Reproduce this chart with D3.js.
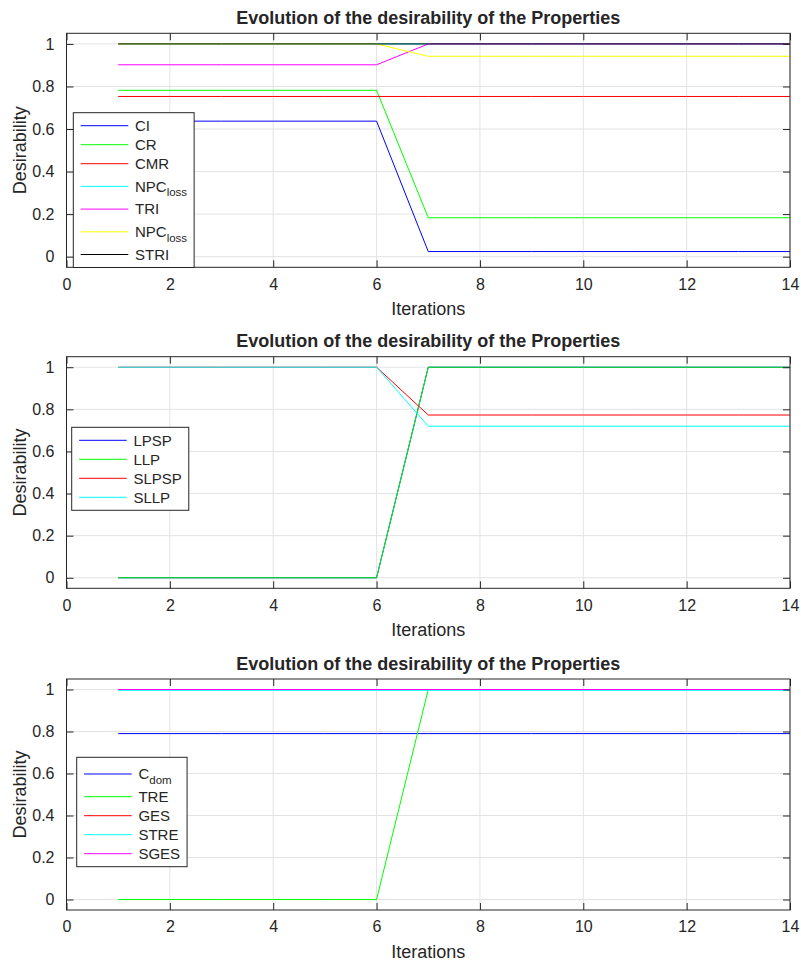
<!DOCTYPE html>
<html>
<head>
<meta charset="utf-8">
<script src="https://cdn.jsdelivr.net/npm/d3@7/dist/d3.min.js"></script>
<style>
  html, body { margin: 0; padding: 0; background: #fff; }
  svg { display: block; }
  text { font-family: "Liberation Sans", Arial, Helvetica, sans-serif; fill: #262626; }
</style>
</head>
<body>
<svg id="chart" width="801" height="963"></svg>
<script>
// ---------------- DATA ----------------
const iterations = [1, 2, 3, 4, 5, 6, 7, 8, 9, 10, 11, 12, 13, 14];
const xTicks = [0, 2, 4, 6, 8, 10, 12, 14];
const yTicks = [0, 0.2, 0.4, 0.6, 0.8, 1];
const yTickLabels = ["0", "0.2", "0.4", "0.6", "0.8", "1"];
const chartTitle = "Evolution of the desirability of the Properties";
const xLabel = "Iterations";
const yLabel = "Desirability";

// Panel 1
const ciValues    = [0.637, 0.637, 0.637, 0.637, 0.637, 0.637, 0.024, 0.024, 0.024, 0.024, 0.024, 0.024, 0.024, 0.024];
const crValues    = [0.782, 0.782, 0.782, 0.782, 0.782, 0.782, 0.183, 0.183, 0.183, 0.183, 0.183, 0.183, 0.183, 0.183];
const cmrValues   = [0.753, 0.753, 0.753, 0.753, 0.753, 0.753, 0.753, 0.753, 0.753, 0.753, 0.753, 0.753, 0.753, 0.753];
const npcLossValues  = [1, 1, 1, 1, 1, 1, 1, 1, 1, 1, 1, 1, 1, 1];
const triValues   = [0.902, 0.902, 0.902, 0.902, 0.902, 0.902, 1, 1, 1, 1, 1, 1, 1, 1];
const npcLoss2Values = [1, 1, 1, 1, 1, 1, 0.942, 0.942, 0.942, 0.942, 0.942, 0.942, 0.942, 0.942];
const striValues  = [1, 1, 1, 1, 1, 1, 1, 1, 1, 1, 1, 1, 1, 1];

// Panel 2
const lpspValues  = [0, 0, 0, 0, 0, 0, 1, 1, 1, 1, 1, 1, 1, 1];
const llpValues   = [0, 0, 0, 0, 0, 0, 1, 1, 1, 1, 1, 1, 1, 1];
const slpspValues = [1, 1, 1, 1, 1, 1, 0.773, 0.773, 0.773, 0.773, 0.773, 0.773, 0.773, 0.773];
const sllpValues  = [1, 1, 1, 1, 1, 1, 0.72, 0.72, 0.72, 0.72, 0.72, 0.72, 0.72, 0.72];

// Panel 3
const cdomValues  = [0.79, 0.79, 0.79, 0.79, 0.79, 0.79, 0.79, 0.79, 0.79, 0.79, 0.79, 0.79, 0.79, 0.79];
const treValues   = [0, 0, 0, 0, 0, 0, 1, 1, 1, 1, 1, 1, 1, 1];
const gesValues   = [1, 1, 1, 1, 1, 1, 1, 1, 1, 1, 1, 1, 1, 1];
const streValues  = [0.996, 0.996, 0.996, 0.996, 0.996, 0.996, 0.996, 0.996, 0.996, 0.996, 0.996, 0.996, 0.996, 0.996];
const sgesValues  = [1, 1, 1, 1, 1, 1, 1, 1, 1, 1, 1, 1, 1, 1];

const panel1Names = [["CI", ""], ["CR", ""], ["CMR", ""], ["NPC", "loss"], ["TRI", ""], ["NPC", "loss"], ["STRI", ""]];
const panel2Names = [["LPSP", ""], ["LLP", ""], ["SLPSP", ""], ["SLLP", ""]];
const panel3Names = [["C", "dom"], ["TRE", ""], ["GES", ""], ["STRE", ""], ["SGES", ""]];

// ---------------- STYLE / LAYOUT ----------------
const panel1Colors = ["#0000ff", "#00ff00", "#ff0000", "#00ffff", "#ff00ff", "#ffff00", "#000000"];
const panel2Colors = ["#0000ff", "#00ff00", "#ff0000", "#00ffff"];
const panel3Colors = ["#0000ff", "#00ff00", "#ff0000", "#00ffff", "#ff00ff"];

const panels = [
  { top: 33.3, height: 234, series: [ciValues, crValues, cmrValues, npcLossValues, triValues, npcLoss2Values, striValues],
    names: panel1Names, colors: panel1Colors, legend: { x: 73.3, y: 112.7 } },
  { top: 356.7, height: 231.6, series: [lpspValues, llpValues, slpspValues, sllpValues],
    names: panel2Names, colors: panel2Colors, legend: { x: 71.7, y: 427.3 } },
  { top: 679, height: 231, series: [cdomValues, treValues, gesValues, streValues, sgesValues],
    names: panel3Names, colors: panel3Colors, legend: { x: 76.7, y: 757.3 } }
];

const left = 66.5, right = 790;
const axisColor = "#262626";
const gridColor = "#e3e3e3";
const tickLen = 7;

const svg = d3.select("#chart");

panels.forEach((p) => {
  const x = d3.scaleLinear().domain([0, 14]).range([left, right]);
  const y = d3.scaleLinear().domain([-0.05, 1.05]).range([p.top + p.height, p.top]);
  const g = svg.append("g");
  const bottom = p.top + p.height;

  // grid
  g.append("g").selectAll("line.gx").data(xTicks).join("line")
    .attr("x1", d => x(d)).attr("x2", d => x(d))
    .attr("y1", p.top).attr("y2", bottom)
    .attr("stroke", gridColor).attr("stroke-width", 1);
  g.append("g").selectAll("line.gy").data(yTicks).join("line")
    .attr("x1", left).attr("x2", right)
    .attr("y1", d => y(d)).attr("y2", d => y(d))
    .attr("stroke", gridColor).attr("stroke-width", 1);

  // series lines
  const line = d3.line().x((d, i) => x(iterations[i])).y(d => y(d));
  p.series.forEach((vals, i) => {
    g.append("path").datum(vals)
      .attr("d", line)
      .attr("fill", "none")
      .attr("stroke", p.colors[i])
      .attr("stroke-width", 1);
  });

  // axes (inward ticks on all four sides)
  const axB = d3.axisBottom(x).tickValues(xTicks).tickSizeInner(-tickLen).tickSizeOuter(0).tickPadding(11).tickFormat(d3.format("d"));
  const axT = d3.axisTop(x).tickValues(xTicks).tickSizeInner(-tickLen).tickSizeOuter(0).tickFormat("");
  const axL = d3.axisLeft(y).tickValues(yTicks).tickSizeInner(-tickLen).tickSizeOuter(0).tickPadding(12).tickFormat((d, i) => yTickLabels[i]);
  const axR = d3.axisRight(y).tickValues(yTicks).tickSizeInner(-tickLen).tickSizeOuter(0).tickFormat("");

  const styleAxis = (sel) => {
    sel.select(".domain").remove();
    sel.selectAll(".tick line").attr("stroke", axisColor);
    sel.selectAll(".tick text").attr("fill", axisColor).style("font-size", "16px")
      .style("font-family", '"Liberation Sans", Arial, Helvetica, sans-serif');
  };
  g.append("g").attr("transform", `translate(0,${bottom})`).call(axB).call(styleAxis);
  g.append("g").attr("transform", `translate(0,${p.top})`).call(axT).call(styleAxis);
  g.append("g").attr("transform", `translate(${left},0)`).call(axL).call(styleAxis);
  g.append("g").attr("transform", `translate(${right},0)`).call(axR).call(styleAxis);

  // frame
  g.append("rect").attr("x", left).attr("y", p.top).attr("width", right - left).attr("height", p.height)
    .attr("fill", "none").attr("stroke", axisColor).attr("stroke-width", 1);

  // title
  g.append("text").attr("x", (left + right) / 2).attr("y", p.top - 9.5)
    .attr("text-anchor", "middle").style("font-size", "18px").style("font-weight", "bold")
    .attr("fill", "#000").text(chartTitle);

  // x label
  g.append("text").attr("x", (left + right) / 2).attr("y", bottom + 48)
    .attr("text-anchor", "middle").style("font-size", "18px").text(xLabel);

  // y label
  g.append("text").attr("transform", `translate(26,${(p.top + bottom) / 2}) rotate(-90)`)
    .attr("text-anchor", "middle").style("font-size", "18px").text(yLabel);

  // legend
  const lg = g.append("g").attr("transform", `translate(${p.legend.x},${p.legend.y})`);
  const box = lg.append("rect").attr("fill", "#fff").attr("stroke", axisColor).attr("stroke-width", 1);
  const pad = 3.5, rowH = 19, subRowH = 26.4;
  let cy = pad;
  let maxW = 0;
  p.names.forEach((nm, i) => {
    const h = nm[1] ? subRowH : rowH;
    const c = cy + h / 2;
    lg.append("line").attr("x1", 7.4).attr("x2", 55).attr("y1", c).attr("y2", c)
      .attr("stroke", p.colors[i]).attr("stroke-width", 1);
    const t = lg.append("text").attr("x", 61.7).attr("y", c + 5.3).style("font-size", "15px").attr("fill", "#000");
    t.append("tspan").text(nm[0]);
    if (nm[1]) {
      t.append("tspan").attr("dy", 4.5).style("font-size", "11.5px").text(nm[1]);
    }
    maxW = Math.max(maxW, t.node().getComputedTextLength());
    cy += h;
  });
  box.attr("x", 0).attr("y", 0).attr("width", 61.7 + maxW + 7).attr("height", cy + pad);
});
</script>
</body>
</html>
